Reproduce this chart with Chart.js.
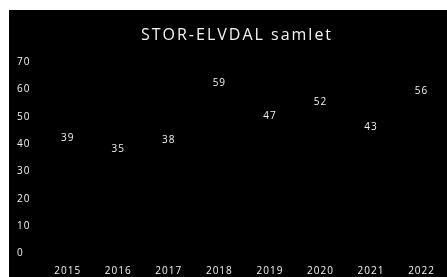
<!DOCTYPE html>
<html>
<head>
<meta charset="utf-8">
<script src="https://cdn.jsdelivr.net/npm/chart.js@4"></script>
<style>
  html, body { margin: 0; padding: 0; background: #fff; }
  #c { position: absolute; left: 9px; top: 10px; background: #000; display: block; }
</style>
</head>
<body>
<canvas id="c" width="438" height="267"></canvas>
<script>
// data
const years = ['2015', '2016', '2017', '2018', '2019', '2020', '2021', '2022'];
const antall = [39, 35, 38, 59, 47, 52, 43, 56];
const yTicks = [0, 10, 20, 30, 40, 50, 60, 70];
const tittel = 'STOR-ELVDAL samlet';

// wider letter spacing like the original font
const sperring = {
  id: 'sperring',
  beforeLayout(chart) { chart.ctx.letterSpacing = '1px'; },
  beforeDraw(chart) { chart.ctx.letterSpacing = '1px'; }
};

// title + value labels above each (hidden) point
const etiketter = {
  id: 'etiketter',
  afterDatasetsDraw(chart) {
    const ctx = chart.ctx;
    const meta = chart.getDatasetMeta(0);
    ctx.save();
    ctx.fillStyle = '#f4f4f4';
    ctx.textAlign = 'center';
    ctx.textBaseline = 'middle';
    ctx.letterSpacing = '2px';
    ctx.font = '16px "Open Sans"';
    ctx.fillText(tittel, 228, 25.5);
    ctx.letterSpacing = '1px';
    ctx.font = '10px "Open Sans"';
    meta.data.forEach((pt, i) => {
      ctx.fillText(String(antall[i]), pt.x, pt.y - 9);
    });
    ctx.restore();
  }
};

new Chart(document.getElementById('c'), {
  type: 'line',
  data: {
    labels: years,
    datasets: [{
      label: tittel,
      data: antall,
      borderColor: 'rgba(0,0,0,0)',
      backgroundColor: 'rgba(0,0,0,0)',
      pointRadius: 0
    }]
  },
  options: {
    responsive: false,
    animation: false,
    layout: { padding: { left: 8, right: 20, top: 52, bottom: 0 } },
    plugins: {
      legend: { display: false },
      tooltip: { enabled: false },
      title: { display: false }
    },
    scales: {
      x: {
        offset: false,
        grid: { display: false, drawTicks: false },
        border: { display: false },
        afterFit(axis) { axis.height = 23.5; },
        ticks: {
          color: '#f4f4f4',
          font: { family: 'Open Sans', size: 10 },
          padding: 12,
          maxRotation: 0
        }
      },
      y: {
        min: 0,
        max: 70,
        grid: { display: false, drawTicks: false },
        border: { display: false },
        afterBuildTicks(axis) {
          axis.ticks = yTicks.map(v => ({ value: v }));
        },
        afterFit(axis) { axis.width = 50.7; },
        ticks: {
          color: '#f4f4f4',
          crossAlign: 'far',
          font: { family: 'Open Sans', size: 10 }
        }
      }
    }
  },
  plugins: [sperring, etiketter]
});
</script>
</body>
</html>
